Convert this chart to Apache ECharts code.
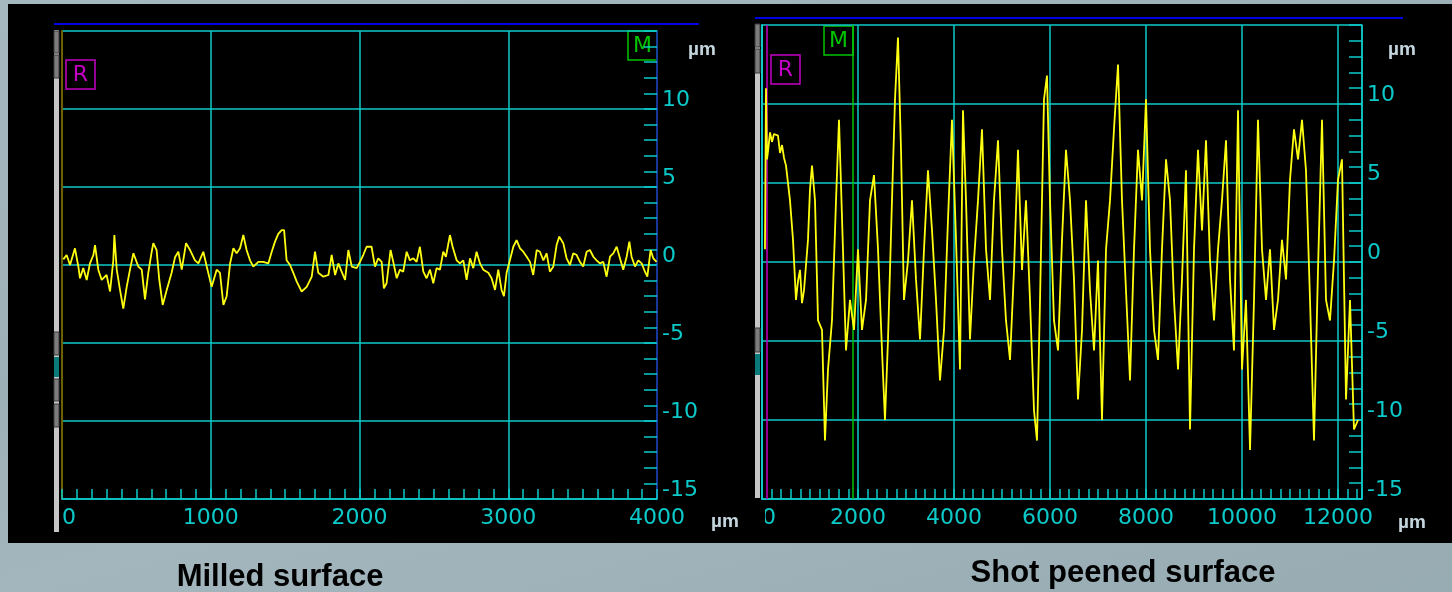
<!DOCTYPE html>
<html>
<head>
<meta charset="utf-8">
<script src="https://cdn.jsdelivr.net/npm/echarts@6/dist/echarts.min.js"></script>
<style>
  html, body { margin: 0; padding: 0; width: 1452px; height: 592px; overflow: hidden; }
  body {
    background: linear-gradient(165deg, #a5b8bf 0%, #9cb0b7 40%, #a3b6bd 60%, #97abb2 100%);
    position: relative;
  }
  #panel { position: absolute; left: 8px; top: 4px; width: 1444px; height: 539px; background: #000; }
  #chart { position: absolute; left: 0; top: 0; width: 1452px; height: 592px; }
</style>
</head>
<body>
<div id="panel"></div>
<div id="chart"></div>
<script>
// Profile traces: [position along the profile (µm), height (µm)]
const milledProfile = [
  [9,0.36],[31,0.64],[54,0],[87,1.07],[110,-0.1],[121,-0.85],[143,-0.2],[166,-0.96],[188,0.1],[211,0.64],
  [222,1.28],[244,-0.3],[267,-0.96],[300,-0.64],[323,-1.7],[345,0.3],[352,1.92],[368,-0.3],[390,-1.6],[412,-2.8],
  [435,-1.4],[457,-0.3],[480,0.75],[513,-0.1],[536,-0.3],[558,-2.2],[580,-0.5],[603,0.85],[614,1.4],[636,0.96],
  [654,-0.96],[677,-2.56],[704,-1.6],[737,-0.5],[760,0.5],[782,0.85],[805,-0.3],[834,1.4],[861,0.96],[894,0.3],
  [917,0.1],[950,0.85],[973,-0.1],[1006,-1.4],[1040,-0.3],[1062,-0.5],[1085,-2.56],[1107,-2.0],[1130,0.1],[1152,1.07],
  [1174,0.75],[1197,1.07],[1219,1.92],[1241,0.96],[1264,0.3],[1286,-0.1],[1320,0.2],[1353,0.2],[1387,0.1],[1410,0.85],
  [1432,1.5],[1454,2.0],[1477,2.24],[1493,2.24],[1510,0.3],[1533,0],[1555,-0.5],[1578,-1.07],[1611,-1.7],[1645,-1.4],
  [1679,-0.75],[1701,0.85],[1723,-0.5],[1757,-0.75],[1791,-0.64],[1813,0.64],[1836,-0.64],[1858,0.1],[1880,-0.43],[1903,-0.96],
  [1925,0.96],[1948,-0.1],[1981,-0.2],[2003,0.2],[2025,0.64],[2048,1.17],[2081,1.17],[2104,-0.1],[2126,0.43],[2149,0.2],
  [2164,-1.5],[2182,-1.17],[2209,0.96],[2227,0.2],[2250,-0.85],[2272,-0.3],[2294,-0.43],[2317,0.85],[2339,0.3],[2362,0.43],
  [2384,0.2],[2406,1.17],[2429,-0.43],[2451,-0.85],[2474,-0.3],[2496,-1.17],[2518,-0.2],[2541,-0.3],[2563,0.85],[2581,0.53],
  [2608,1.92],[2626,1.17],[2653,0.3],[2675,0.1],[2698,0.3],[2720,-0.96],[2743,0.43],[2765,-0.2],[2787,0.85],[2810,0.1],
  [2832,-0.3],[2866,-0.5],[2888,-0.85],[2911,-1.6],[2933,-0.3],[2955,-1.6],[2971,-2.0],[2989,-0.5],[3011,0.3],[3034,1.17],
  [3056,1.6],[3079,1.07],[3101,0.85],[3124,0.53],[3146,0.2],[3168,-0.64],[3191,0.96],[3213,0.85],[3236,0.3],[3258,0.75],
  [3280,-0.43],[3303,-0.1],[3325,1.28],[3343,1.82],[3370,1.4],[3392,0.43],[3415,0],[3437,0.75],[3460,0.64],[3482,0.2],
  [3504,-0.1],[3527,0.85],[3549,0.96],[3572,0.53],[3594,0.3],[3616,0.1],[3639,0.2],[3661,-0.75],[3684,0.53],[3706,0.75],
  [3729,1.17],[3751,0.43],[3773,-0.3],[3796,0.53],[3814,1.5],[3829,0.53],[3852,-0.1],[3874,0.3],[3897,0.1],[3919,-0.43],
  [3935,-0.75],[3957,0.96],[3975,0.43],[3997,0.2]
];

const peenedProfile = [
  [62,0.8],[83,11],[104,6.5],[125,7],[167,8.2],[208,7.6],[250,8.1],[333,8],[375,6.9],[417,7.4],[458,6.6],[500,6.1],[583,3.9],[646,1.4],[708,-2.4],
  [750,-1.2],[792,-0.5],[833,-2.6],[875,-1.8],[958,1.4],[1000,4.6],[1042,6.1],[1104,3.9],[1167,-3.7],[1250,-4.3],[1312,-11.3],[1375,-6.8],[1458,-3.7],
  [1542,3.9],[1604,9],[1687,0.8],[1750,-5.6],[1833,-2.4],[1917,-4.3],[2000,0.8],[2083,-4.3],[2167,-2.4],[2250,3.9],
  [2333,5.5],[2417,0.8],[2500,-5.6],[2562,-10],[2625,-4.9],[2708,3.9],[2771,10.3],[2833,14.2],[2896,7.1],[2958,-2.4],
  [3042,0.1],[3125,3.9],[3208,-1.1],[3292,-4.9],[3375,0.8],[3458,5.8],[3542,2],[3625,-2.4],[3708,-7.5],[3792,-4.3],
  [3875,2.7],[3958,9],[4042,1.4],[4125,-6.8],[4187,9.6],[4250,3.9],[4333,-4.9],[4417,0.1],[4500,3.9],[4583,8.4],
  [4667,0.8],[4750,-2.4],[4833,3.9],[4917,7.7],[5000,0.8],[5083,-3.7],[5167,-6.2],[5250,-0.5],[5333,7.1],[5417,-0.5],
  [5500,3.9],[5583,-2.4],[5667,-9.4],[5729,-11.3],[5792,-2.4],[5875,10.3],[5937,11.8],[6000,3.9],[6083,-3.7],[6167,-5.6],
  [6250,1.4],[6333,7.1],[6417,3.9],[6500,-1.1],[6583,-8.7],[6667,-4.3],[6750,3.9],[6833,-1.8],[6917,-5.6],[7000,0.1],
  [7083,-10],[7167,0.8],[7250,3.9],[7333,8.4],[7417,12.5],[7500,3.9],[7583,-1.8],[7667,-7.5],[7750,0.8],[7833,7.1],
  [7917,3.9],[8000,10.3],[8083,0.8],[8167,-4.3],[8250,-6.2],[8333,0.8],[8417,6.5],[8500,3.9],[8583,-2.4],[8667,-6.8],
  [8750,-1.1],[8833,5.8],[8917,-10.6],[9000,0.8],[9083,7.1],[9167,2],[9250,7.7],[9333,0.1],[9417,-3.7],[9500,0.8],
  [9583,3.9],[9667,7.7],[9750,-1.1],[9833,-5.6],[9917,9.6],[10000,-6.8],[10083,-2.4],[10167,-11.9],[10250,-2.4],[10333,9],
  [10417,0.8],[10500,-2.4],[10583,0.8],[10667,-4.3],[10750,-2.4],[10833,1.4],[10917,-1.1],[11000,5.2],[11083,8.4],[11167,6.5],
  [11250,9],[11333,5.8],[11417,-2.4],[11500,-11.3],[11583,-0.5],[11667,9],[11750,-2.4],[11833,-3.7],[11917,0.1],[12000,5.2],
  [12083,6.5],[12167,-8.7],[12250,-2.4],[12333,-10.6],[12417,-10]
];

// Axis ranges (µm)
const heightRange = [-15, 15];
const heightStep = 5;
const milledLength = 4000;
const milledStep = 1000;
const milledMinorStep = 100;
const peenedLength = 12500;
const peenedStep = 2000;
const peenedMinorStep = 200;

// Cursor positions on the shot peened profile (µm)
const peenedCursorR = 100;
const peenedCursorM = 1900;

const captions = ['Milled surface', 'Shot peened surface'];
const unitLabel = 'µm';

// Colours
const CYAN = '#0ccaca';
const NAVY = '#1a1a9a';
const TRACE = '#ffff10';
const MAGENTA = '#c400c4';
const GREEN = '#00c400';
const OLIVE = '#6c6200';
const UNIT = '#c4d6dd';
const FONT = 'DejaVu Sans';

// Plot rectangles
const G1 = { left: 62, top: 31, width: 595, height: 468 };
const G2 = { left: 762, top: 25, width: 600, height: 474 };

const chart = echarts.init(document.getElementById('chart'), null, { renderer: 'canvas' });

function heightAxis(gridIndex, lineColor) {
  return {
    type: 'value', gridIndex, position: 'right',
    min: heightRange[0], max: heightRange[1], interval: heightStep,
    axisLine: { show: true, onZero: false, lineStyle: { color: lineColor, width: 1.5 } },
    axisTick: { show: true, inside: true, length: 13, lineStyle: { color: CYAN, width: 1.5 } },
    minorTick: { show: true, splitNumber: 5, length: 13, lineStyle: { color: CYAN, width: 1.5 } },
    splitLine: { show: true, lineStyle: { color: CYAN, width: 1.5 } },
    axisLabel: {
      show: true, color: CYAN, fontFamily: FONT, fontSize: 22, lineHeight: 18, margin: 5,
      verticalAlign: 'bottom', showMaxLabel: false, showMinLabel: true
    }
  };
}

function edgeAxis(gridIndex, color) {
  return {
    type: 'value', gridIndex, position: 'left',
    min: heightRange[0], max: heightRange[1], interval: heightStep,
    axisLine: { show: true, onZero: false, lineStyle: { color, width: 2 } },
    axisTick: { show: false }, axisLabel: { show: false }, splitLine: { show: false }
  };
}

function lengthAxis(gridIndex, max, step, lineColor) {
  return {
    type: 'value', gridIndex, position: 'bottom', min: 0, max, interval: step,
    axisLine: { show: true, onZero: false, lineStyle: { color: lineColor, width: 1.5 } },
    axisTick: { show: false },
    splitLine: { show: true, lineStyle: { color: CYAN, width: 1.5 } },
    axisLabel: {
      show: true, color: CYAN, fontFamily: FONT, fontSize: 22, margin: 8,
      formatter: v => String(v),
      showMinLabel: true, showMaxLabel: max % step === 0, alignMinLabel: 'left'
    }
  };
}

function minorLengthAxis(gridIndex, max, step) {
  return {
    type: 'value', gridIndex, position: 'bottom', min: 0, max, interval: step,
    axisLine: { show: false, onZero: false },
    axisTick: { show: true, inside: true, length: 10, lineStyle: { color: CYAN, width: 1.5 } },
    axisLabel: { show: false }, splitLine: { show: false }
  };
}

function markerBox(x, y, letter, color) {
  return {
    type: 'group', x, y, z: 50,
    children: [
      { type: 'rect', shape: { x: 0, y: 0, width: 29, height: 29 }, style: { fill: 'transparent', stroke: color, lineWidth: 1.5 } },
      { type: 'text', x: 14.5, y: 15, style: { text: letter, fill: color, font: '22px "DejaVu Sans"', align: 'center', verticalAlign: 'middle' } }
    ]
  };
}

function scrollStrip(x, top, bottom, buttons, teal) {
  const items = [{ type: 'rect', shape: { x, y: top, width: 5, height: bottom - top }, style: { fill: '#c6c6c6' }, z: 5 }];
  buttons.forEach(b => {
    items.push({ type: 'rect', shape: { x, y: b[0], width: 5, height: b[1] - b[0] }, style: { fill: '#7d7d7d', stroke: '#3a3a3a', lineWidth: 1 }, z: 6 });
  });
  items.push({ type: 'rect', shape: { x, y: teal[0], width: 5, height: teal[1] - teal[0] }, style: { fill: '#0a7a7a' }, z: 6 });
  return items;
}

const unitFont = 'bold 19px "Liberation Sans", Arial';
const captionFont = 'bold 31px "Liberation Sans", Arial';

const graphics = [
  // blue header rules
  { type: 'line', shape: { x1: 54, y1: 24, x2: 699, y2: 24 }, style: { stroke: '#0000e6', lineWidth: 2 }, z: 5 },
  { type: 'line', shape: { x1: 755, y1: 18, x2: 1403, y2: 18 }, style: { stroke: '#0000e6', lineWidth: 2 }, z: 5 },
  ...scrollStrip(54, 30, 532, [[31, 53], [55, 78], [332, 355], [379, 401], [404, 427]], [357, 377]),
  ...scrollStrip(755, 24, 498, [[24, 47], [49, 73], [328, 352]], [354, 375]),
  markerBox(66, 60, 'R', MAGENTA),
  markerBox(628, 31, 'M', GREEN),
  markerBox(771, 55, 'R', MAGENTA),
  markerBox(824, 26, 'M', GREEN),
  // unit labels
  { type: 'text', x: 702, y: 50, style: { text: unitLabel, fill: UNIT, font: unitFont, align: 'center', verticalAlign: 'middle' }, z: 5 },
  { type: 'text', x: 725, y: 522, style: { text: unitLabel, fill: UNIT, font: unitFont, align: 'center', verticalAlign: 'middle' }, z: 5 },
  { type: 'text', x: 1402, y: 50, style: { text: unitLabel, fill: UNIT, font: unitFont, align: 'center', verticalAlign: 'middle' }, z: 5 },
  { type: 'text', x: 1412, y: 523, style: { text: unitLabel, fill: UNIT, font: unitFont, align: 'center', verticalAlign: 'middle' }, z: 5 },
  // the left panel edge overlaps the start of the second length scale
  { type: 'rect', shape: { x: 740, y: 503, width: 25, height: 32 }, style: { fill: '#000' }, z: 100 },
  // captions
  { type: 'text', x: 280, y: 577, style: { text: captions[0], fill: '#000', font: captionFont, align: 'center', verticalAlign: 'middle' }, z: 5 },
  { type: 'text', x: 1123, y: 573, style: { text: captions[1], fill: '#000', font: captionFont, align: 'center', verticalAlign: 'middle' }, z: 5 }
];

chart.setOption({
  backgroundColor: 'transparent',
  animation: false,
  grid: [
    Object.assign({ containLabel: false }, G1),
    Object.assign({ containLabel: false }, G2)
  ],
  xAxis: [
    lengthAxis(0, milledLength, milledStep, CYAN),
    minorLengthAxis(0, milledLength, milledMinorStep),
    lengthAxis(1, peenedLength, peenedStep, CYAN),
    minorLengthAxis(1, peenedLength, peenedMinorStep)
  ],
  yAxis: [
    heightAxis(0, NAVY),
    edgeAxis(0, OLIVE),
    heightAxis(1, CYAN),
    edgeAxis(1, CYAN)
  ],
  series: [
    {
      type: 'line', xAxisIndex: 0, yAxisIndex: 0, data: milledProfile,
      showSymbol: false, symbol: 'none', z: 10,
      lineStyle: { color: TRACE, width: 1.8 }
    },
    {
      type: 'line', xAxisIndex: 2, yAxisIndex: 2, data: peenedProfile,
      showSymbol: false, symbol: 'none', z: 10,
      lineStyle: { color: TRACE, width: 1.8 },
      markLine: {
        silent: true, symbol: ['none', 'none'], label: { show: false }, animation: false,
        data: [
          { xAxis: peenedCursorR, lineStyle: { color: MAGENTA, width: 1.5, type: 'solid' } },
          { xAxis: peenedCursorM, lineStyle: { color: GREEN, width: 1.5, type: 'solid' } }
        ]
      }
    }
  ],
  graphic: graphics
});
</script>
</body>
</html>
